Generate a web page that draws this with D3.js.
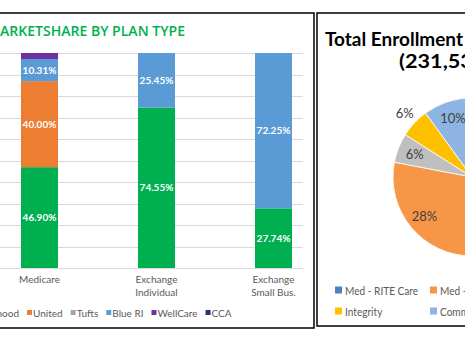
<!DOCTYPE html>
<html>
<head>
<meta charset="utf-8">
<script src="https://cdn.jsdelivr.net/npm/d3@7"></script>
<style>
  html, body { margin: 0; padding: 0; background: #fff; }
  svg { display: block; }
</style>
</head>
<body>
<div class="graph"></div>
<script>
"use strict";

// Left chart: market share by plan type (percent)
var categories = ["Medicare", "Exchange Individual", "Exchange Small Bus."];
var categoryLines = [["Medicare"], ["Exchange", "Individual"], ["Exchange", "Small Bus."]];
var carriers = ["Neighborhood", "United", "Tufts", "Blue RI", "WellCare", "CCA"];
var neighborhood = [46.90, 74.55, 27.74];
var united = [40.00, 0, 0];
var tufts = [0, 0, 0];
var blueRI = [10.31, 25.45, 72.25];
var wellCare = [2.79, 0, 0];
var cca = [0, 0, 0];
var carrierColors = ["#00B050", "#ED7D31", "#A5A5A5", "#5B9BD5", "#7030A0", "#203864"];

// Right chart: total enrollment share (percent)
var enrollmentGroups = ["Med - RITE Care", "Med - RIte Share", "Med - Rhody Health", "Integrity", "Commercial"];
var enrollmentShare = [50, 28, 6, 6, 10];
var enrollmentColors = ["#4F81BD", "#F79646", "#BFBFBF", "#FFC000", "#8DB4E2"];
var outsideLabels = ["Integrity"];

var W = 465, H = 338;
var svg = d3.select(".graph").append("svg").attr("width", W).attr("height", H);
svg.append("rect").attr("width", W).attr("height", H).attr("fill", "#fff");

// stretch or squeeze a text horizontally, the picture uses a narrower font
function narrow(sel, factor) {
    sel.each(function () {
        var len = this.getComputedTextLength();
        d3.select(this).attr("textLength", len * factor).attr("lengthAdjust", "spacingAndGlyphs");
    });
}

function renderBarPanel() {
    var seriesValues = [neighborhood, united, tufts, blueRI, wellCare, cca];
    var rows = categories.map(function (cat, i) {
        var row = { category: cat };
        carriers.forEach(function (c, k) { row[c] = seriesValues[k][i]; });
        return row;
    });

    var plotTop = 53, plotBottom = 268, plotRight = 303;
    var x = d3.scalePoint().domain(categories).range([39.5, 273.5]);
    var y = d3.scaleLinear().domain([0, 100]).range([plotBottom, plotTop]);
    var color = d3.scaleOrdinal().domain(carriers).range(carrierColors);
    var barWidth = 37;

    var g = svg.append("g");

    g.append("text")
        .attr("x", 185).attr("y", 36)
        .attr("text-anchor", "end")
        .attr("font-family", "'Open Sans', sans-serif")
        .attr("font-weight", 600)
        .attr("font-size", 15)
        .attr("fill", "#00B050")
        .attr("textLength", 198)
        .attr("lengthAdjust", "spacingAndGlyphs")
        .text("MARKETSHARE BY PLAN TYPE");

    g.selectAll("line.grid").data(y.ticks(10)).enter().append("line")
        .attr("class", "grid")
        .attr("x1", 0).attr("x2", plotRight)
        .attr("y1", function (d) { return Math.round(y(d)) + 0.5; })
        .attr("y2", function (d) { return Math.round(y(d)) + 0.5; })
        .attr("stroke", "#D9D9D9").attr("stroke-width", 1);

    var stacked = d3.stack().keys(carriers)(rows);

    var layers = g.selectAll("g.layer").data(stacked).enter().append("g")
        .attr("class", "layer")
        .attr("fill", function (d) { return color(d.key); });

    layers.selectAll("rect").data(function (d) { return d; }).enter().append("rect")
        .attr("x", function (d) { return x(d.data.category) - barWidth / 2; })
        .attr("y", function (d) { return y(d[1]); })
        .attr("width", barWidth)
        .attr("height", function (d) { return y(d[0]) - y(d[1]); });

    // data labels only on the bigger segments
    layers.selectAll("text").data(function (d) {
        return d.filter(function (s) { return s[1] - s[0] >= 5; });
    }).enter().append("text")
        .attr("x", function (d) { return x(d.data.category); })
        .attr("y", function (d) { return (y(d[0]) + y(d[1])) / 2; })
        .attr("dy", "0.35em")
        .attr("text-anchor", "middle")
        .attr("font-family", "Lato, sans-serif")
        .attr("font-weight", 700)
        .attr("font-size", 10)
        .attr("fill", "#fff")
        .text(function (d) { return (d[1] - d[0]).toFixed(2) + "%"; });

    // category labels
    var ticks = g.selectAll("text.cat").data(categories).enter().append("text")
        .attr("class", "cat")
        .attr("x", function (d) { return x(d); })
        .attr("y", 283)
        .attr("text-anchor", "middle")
        .attr("font-family", "Lato, sans-serif")
        .attr("font-size", 10)
        .attr("fill", "#595959");
    ticks.selectAll("tspan").data(function (d, i) { return categoryLines[i]; }).enter().append("tspan")
        .attr("x", function () { return x(d3.select(this.parentNode).datum()); })
        .attr("dy", function (d, i) { return i ? 13 : 0; })
        .text(function (d) { return d; });

    // legend, laid out in a row then shifted so "United" sits where it does in the picture
    var legend = g.append("g");
    var cursor = 0, unitedX = 0;
    carriers.forEach(function (c) {
        var item = legend.append("g");
        item.append("rect").attr("x", cursor).attr("y", 310).attr("width", 5).attr("height", 5)
            .attr("fill", color(c));
        var t = item.append("text").attr("x", cursor + 6).attr("y", 316.5)
            .attr("font-family", "Lato, sans-serif").attr("font-size", 10)
            .attr("fill", "#595959").text(c);
        if (c === "United") { unitedX = cursor; }
        cursor += 6 + t.node().getComputedTextLength() + 8;
    });
    legend.attr("transform", "translate(" + (27 - unitedX) + ",0)");

    g.append("rect").attr("x", -5).attr("y", 13).attr("width", 319).attr("height", 315)
        .attr("fill", "none").attr("stroke", "#000").attr("stroke-width", 1.5);
}

function renderPiePanel() {
    var cx = 472, cy = 177, r = 79;
    var g = svg.append("g");

    g.append("rect").attr("x", 317).attr("y", 13).attr("width", 200).attr("height", 313)
        .attr("fill", "#fff").attr("stroke", "#000").attr("stroke-width", 1.5);

    g.append("text").attr("x", 325).attr("y", 46)
        .attr("font-family", "Lato, sans-serif").attr("font-weight", 700)
        .attr("font-size", 19).attr("fill", "#000")
        .attr("textLength", 138).attr("lengthAdjust", "spacingAndGlyphs")
        .text("Total Enrollment");
    g.append("text").attr("x", 399).attr("y", 68)
        .attr("font-family", "Lato, sans-serif").attr("font-weight", 700)
        .attr("font-size", 19).attr("fill", "#000")
        .text("(231,535)")
        .call(narrow, 1.14);

    var data = enrollmentGroups.map(function (name, i) {
        return { name: name, value: enrollmentShare[i] };
    });
    var color = d3.scaleOrdinal().domain(enrollmentGroups).range(enrollmentColors);
    var pie = d3.pie().sort(null).value(function (d) { return d.value; });
    var arc = d3.arc().innerRadius(0).outerRadius(r);
    var insideArc = d3.arc().innerRadius(r * 0.78).outerRadius(r * 0.78);
    var outsideArc = d3.arc().innerRadius(r * 1.17).outerRadius(r * 1.17);

    var pieG = g.append("g").attr("transform", "translate(" + cx + "," + cy + ")");
    var arcs = pie(data);

    pieG.selectAll("path").data(arcs).enter().append("path")
        .attr("d", arc)
        .attr("fill", function (d) { return color(d.data.name); })
        .attr("stroke", "#fff").attr("stroke-width", 0.8);

    pieG.selectAll("text").data(arcs).enter().append("text")
        .attr("transform", function (d) {
            var a = outsideLabels.indexOf(d.data.name) >= 0 ? outsideArc : insideArc;
            return "translate(" + a.centroid(d) + ")";
        })
        .attr("dy", "0.35em")
        .attr("text-anchor", "middle")
        .attr("font-family", "Lato, sans-serif")
        .attr("font-size", 13)
        .attr("fill", "#404040")
        .text(function (d) { return d.data.value + "%"; });

    // legend: two rows of three
    var legend = g.selectAll("g.leg").data(enrollmentGroups).enter().append("g")
        .attr("class", "leg")
        .attr("transform", function (d, i) {
            return "translate(" + (335 + (i % 3) * 95) + "," + (i < 3 ? 290 : 311) + ")";
        });
    legend.append("rect").attr("x", 0).attr("y", -3.5).attr("width", 7).attr("height", 7)
        .attr("fill", function (d) { return color(d); });
    legend.append("text").attr("x", 10).attr("y", 4.5)
        .attr("font-family", "Lato, sans-serif").attr("font-size", 12)
        .attr("fill", "#595959")
        .text(function (d) { return d; })
        .call(narrow, 0.84);
}

renderBarPanel();
renderPiePanel();
</script>
</body>
</html>
